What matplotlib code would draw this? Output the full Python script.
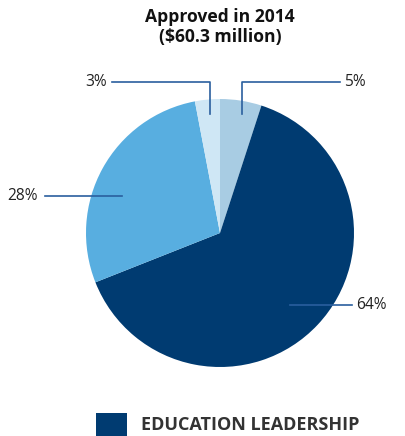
import matplotlib.pyplot as plt
from matplotlib.patches import Rectangle

# data
shares = [5, 64, 28, 3]
labels = ["5%", "64%", "28%", "3%"]
colors = ["#a8cce3", "#003b71", "#58aee0", "#cfe7f5"]
title = "Approved in 2014\n($60.3 million)"
legend_label = "EDUCATION LEADERSHIP"

W, H = 405, 436
fig = plt.figure(figsize=(W / 100, H / 100), dpi=100)
ax = fig.add_axes([0, 0, 1, 1])

plt.rcParams["font.family"] = ["Open Sans", "DejaVu Sans"]

cx, cy, r = 220, H - 233, 134
ax.pie(shares, colors=colors, startangle=90, counterclock=False,
       center=(cx, cy), radius=r, frame=True)
ax.set_xlim(0, W)
ax.set_ylim(0, H)
ax.set_aspect("equal")
ax.axis("off")

# title
ax.text(220, H - 27, title, ha="center", va="center", fontsize=12.6,
        fontweight="bold", color="#111111", linespacing=1.1)

# leader lines
lc = "#2a5f9e"
ax.plot([112, 210, 210], [H - 82, H - 82, H - 114], color=lc, lw=1.2)
ax.plot([340, 242, 242], [H - 82, H - 82, H - 114], color=lc, lw=1.2)
ax.plot([45, 122], [H - 196, H - 196], color=lc, lw=1.2)
ax.plot([290, 352], [H - 305, H - 305], color=lc, lw=1.2)

tc = "#222222"
fs = 11.2
ax.text(107, H - 82, labels[3], ha="right", va="center", fontsize=fs, color=tc)
ax.text(344, H - 82, labels[0], ha="left", va="center", fontsize=fs, color=tc)
ax.text(38, H - 196, labels[2], ha="right", va="center", fontsize=fs, color=tc)
ax.text(356, H - 305, labels[1], ha="left", va="center", fontsize=fs, color=tc)

# legend
ax.add_patch(Rectangle((96, H - 436), 31, 23, color=colors[1], lw=0))
ax.text(141, H - 425, legend_label, ha="left", va="center", fontsize=13,
        fontweight="bold", color="#333333")

fig.savefig("out.png", dpi=100)
